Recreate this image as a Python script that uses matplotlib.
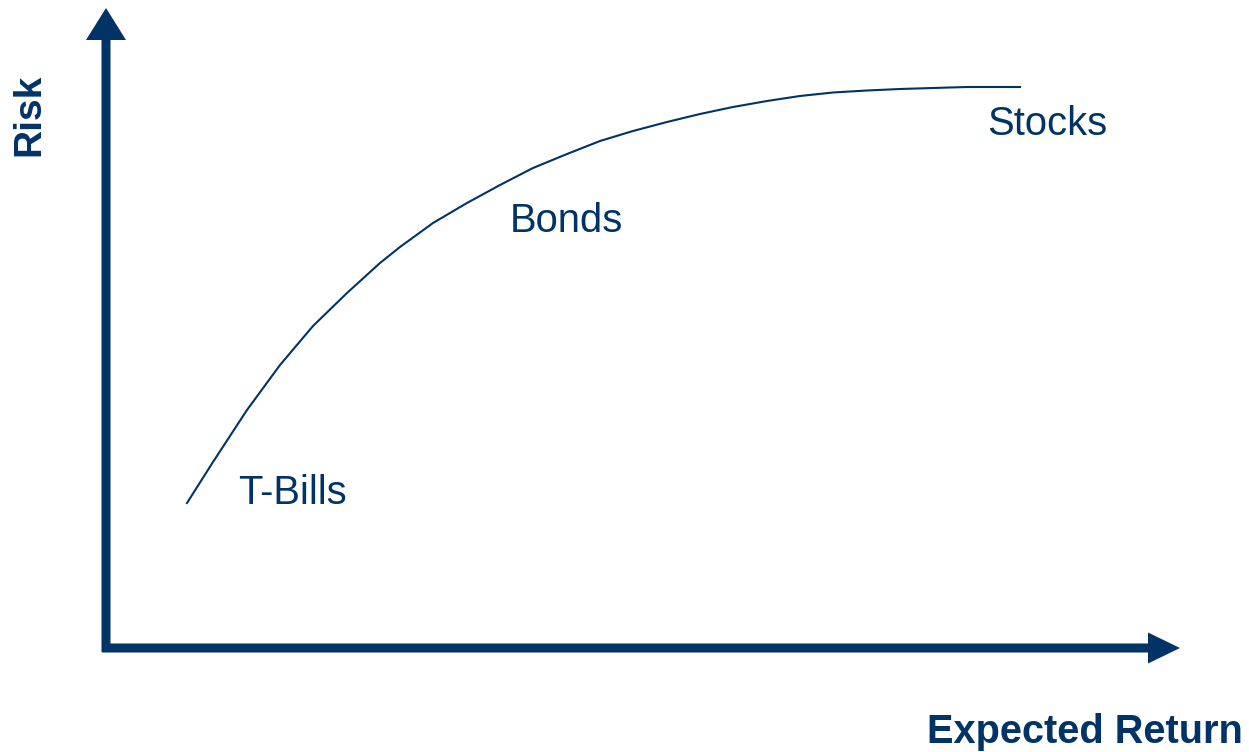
import matplotlib.pyplot as plt
import numpy as np

plt.rcParams['font.family'] = ['Liberation Sans', 'DejaVu Sans']

NAVY = '#003366'

# risk/return trade-off curve (expected return, risk) in arbitrary units
ret = [81, 107, 141, 174, 207, 241, 274, 294, 327, 361, 394, 427, 461, 494,
       527, 561, 594, 627, 661, 694, 727, 761, 794, 827, 861, 914]
risk = [145, 186, 238, 283, 322, 355, 385, 401, 425, 445, 463, 480, 494, 507,
        517, 526, 534, 541, 547, 552, 555.5, 557.5, 559, 560, 561, 561]

labels = ['T-Bills', 'Bonds', 'Stocks']
label_ret = [132, 404, 881]
label_risk = [155, 427, 524]

fig = plt.figure(figsize=(12.49, 7.52), dpi=100)
ax = fig.add_axes([0, 0, 1, 1])
ax.set_xlim(-106, 1143)
ax.set_ylim(-104, 648)
ax.axis('off')

# axes drawn as thick arrows
ax.arrow(0, -4, 0, 612, width=9, head_width=40, head_length=32,
         length_includes_head=False, color=NAVY, lw=0)
ax.arrow(-4, 0, 1046, 0, width=9, head_width=31, head_length=32,
         length_includes_head=False, color=NAVY, lw=0)

ax.plot(ret, risk, color=NAVY, lw=1.5, solid_joinstyle='round')

for txt, x, y in zip(labels, label_ret, label_risk):
    ax.text(x, y, txt, color=NAVY, fontsize=28.8, ha='left', va='center')

ax.text(-77, 533, 'Risk', color=NAVY, fontsize=28, fontweight='bold',
        rotation=90, ha='center', va='center')
ax.text(1137, -84, 'Expected Return', color=NAVY, fontsize=28.6,
        fontweight='bold', ha='right', va='center')

fig.savefig('out.png', dpi=100)
